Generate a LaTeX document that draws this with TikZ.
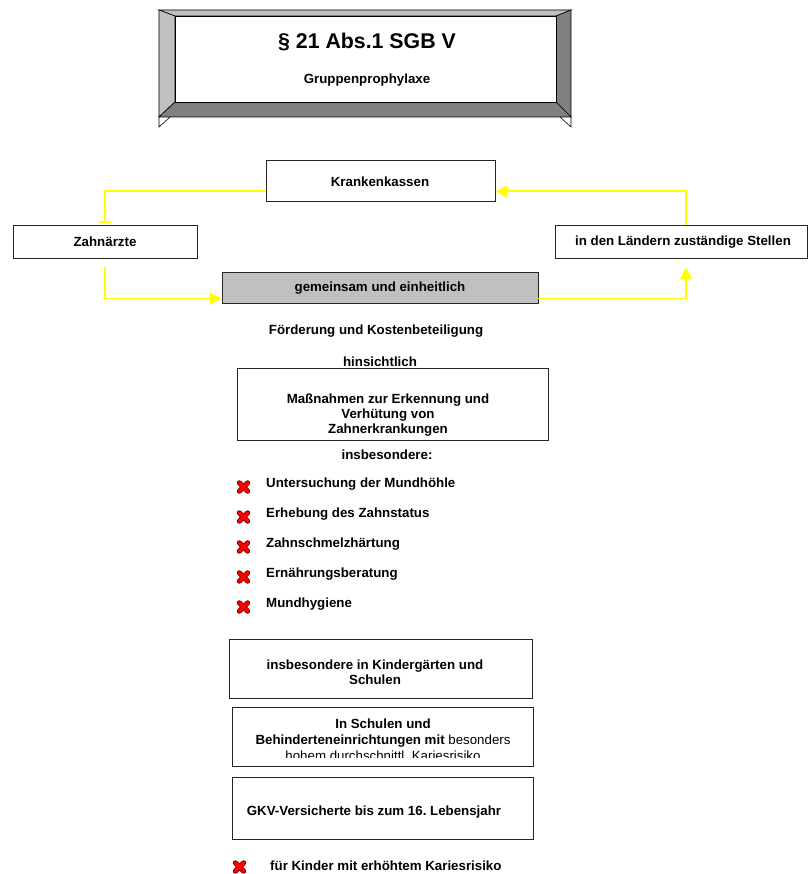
\documentclass[tikz,border=0pt]{standalone}
\usepackage{fontspec}
\setmainfont{Liberation Sans}
\usetikzlibrary{arrows.meta}
\frenchspacing
\definecolor{ltg}{HTML}{C0C0C0}
\definecolor{dkg}{HTML}{808080}
\definecolor{xred}{HTML}{FF0000}
\definecolor{xdark}{HTML}{800000}
\definecolor{ylw}{HTML}{FFFF00}
\tikzset{
  box/.style={draw=black!85, line width=0.9pt, rectangle, inner sep=0pt},
  txt/.style={font=\fontsize{13.3pt}{15pt}\selectfont\bfseries, inner sep=0pt, align=center},
  ltxt/.style={txt, anchor=west, align=left},
  yl/.style={draw=ylw, line width=1.9pt},
  tri/.style={-{Triangle[length=12pt,width=12pt]}},
  redx/.pic={
    \draw[line width=5pt, draw=xdark, line cap=round] (-4.2,-4.2)--(4.2,4.2) (-4.2,4.2)--(4.2,-4.2);
    \draw[line width=3.4pt, draw=xred, line cap=round] (-4.2,-4.2)--(4.2,4.2) (-4.2,4.2)--(4.2,-4.2);
  }
}
\begin{document}
\begin{tikzpicture}[x=1pt,y=-1pt]
\useasboundingbox (0,0) rectangle (808,874);
\fill[white] (0,0) rectangle (808,874);
% beveled title box
\filldraw[fill=ltg, draw=black, line width=0.6pt] (159,10) -- (571,10) -- (556,16) -- (175,16) -- cycle;
\filldraw[fill=ltg, draw=black, line width=0.6pt] (159,10) -- (175,16) -- (175,102) -- (159,117) -- cycle;
\filldraw[fill=dkg, draw=black, line width=0.6pt] (571,10) -- (556,16) -- (556,102) -- (571,117) -- cycle;
\filldraw[fill=dkg, draw=black, line width=0.6pt] (175,102) -- (556,102) -- (571,117) -- (159,117) -- cycle;
\filldraw[fill=white, draw=black, line width=0.6pt] (175,16) rectangle (556,102);
\draw[black, line width=0.6pt] (159,117) -- (159,127) -- (170,117);
\draw[black, line width=0.6pt] (571,117) -- (571,127) -- (560,117);
\node[txt, font=\fontsize{21.3pt}{24pt}\selectfont\bfseries] (title) at (367,42) {§ 21 Abs.1 SGB V};
\node[txt] (sub) at (367,80) {Gruppenprophylaxe};
% boxes
\node[box, minimum width=229pt, minimum height=41pt] (kk) at (380.5,180.5) {};
\node[txt] (kkt) at (380,182) {Krankenkassen};
\node[box, minimum width=184pt, minimum height=33pt] (za) at (105,241.5) {};
\node[txt] (zat) at (105,242) {Zahnärzte};
\node[box, minimum width=252pt, minimum height=33pt] (la) at (681,241.5) {};
\node[txt] (lat) at (683,242.5) {in den Ländern zuständige Stellen};
\node[box, fill=ltg, minimum width=316pt, minimum height=31pt] (gm) at (380,287.5) {};
\node[txt] (gmt) at (380,288) {gemeinsam und einheitlich};
% connectors
\draw[yl, -{Bar[width=12pt]}] ([yshift=10pt]kk.south west) -| ([yshift=2pt]za.north);
\draw[yl, tri] ([yshift=-9pt]za.south) |- ([yshift=5pt]gm.south west);
\draw[yl, tri] ([yshift=5pt]gm.south east) -| ([xshift=5pt,yshift=-9pt]la.south);
\draw[yl, tri] ([xshift=5pt]la.north) |- ([yshift=10pt]kk.south east);
% middle texts
\node[txt] (foe) at (376,331) {Förderung und Kostenbeteiligung};
\node[txt] (hin) at (380,362) {hinsichtlich};
\node[box, minimum width=311pt, minimum height=72pt] (ms) at (392.5,404) {};
\node[txt] (mst) at (388,415) {Maßnahmen zur Erkennung und\\Verhütung von\\Zahnerkrankungen};
\node[txt] (ins) at (387,455) {insbesondere:};
% bullets
\pic at (243.5,487) {redx};
\node[ltxt] (u1) at (266,484) {Untersuchung der Mundhöhle};
\pic at (243.5,517) {redx};
\node[ltxt] (u2) at (266,514) {Erhebung des Zahnstatus};
\pic at (243.5,547) {redx};
\node[ltxt] (u3) at (266,544) {Zahnschmelzhärtung};
\pic at (243.5,577) {redx};
\node[ltxt] (u4) at (266,574) {Ernährungsberatung};
\pic at (243.5,607) {redx};
\node[ltxt] (u5) at (266,604) {Mundhygiene};
% lower boxes
\node[box, minimum width=303pt, minimum height=59pt] (b1) at (380.5,668.5) {};
\node[txt] (b1t) at (375,672) {insbesondere in Kindergärten und\\Schulen};
\node[box, minimum width=301pt, minimum height=59pt] (b2) at (382.5,736.5) {};
\begin{scope}
\clip (232,707) rectangle (533,757);
\node[txt, font=\fontsize{13.3pt}{16pt}\selectfont] (b2t) at (383,740) {\bfseries In Schulen und\\\bfseries Behinderteneinrichtungen mit \mdseries besonders\\\mdseries hohem durchschnittl. Kariesrisiko};
\end{scope}
\node[box, minimum width=301pt, minimum height=62pt] (b3) at (382.5,808) {};
\node[txt] (b3t) at (374,812.5) {GKV-Versicherte bis zum 16. Lebensjahr};
\pic at (239.5,867) {redx};
\node[ltxt] (u6) at (270,866) {für Kinder mit erhöhtem Kariesrisiko};
\end{tikzpicture}
\end{document}
